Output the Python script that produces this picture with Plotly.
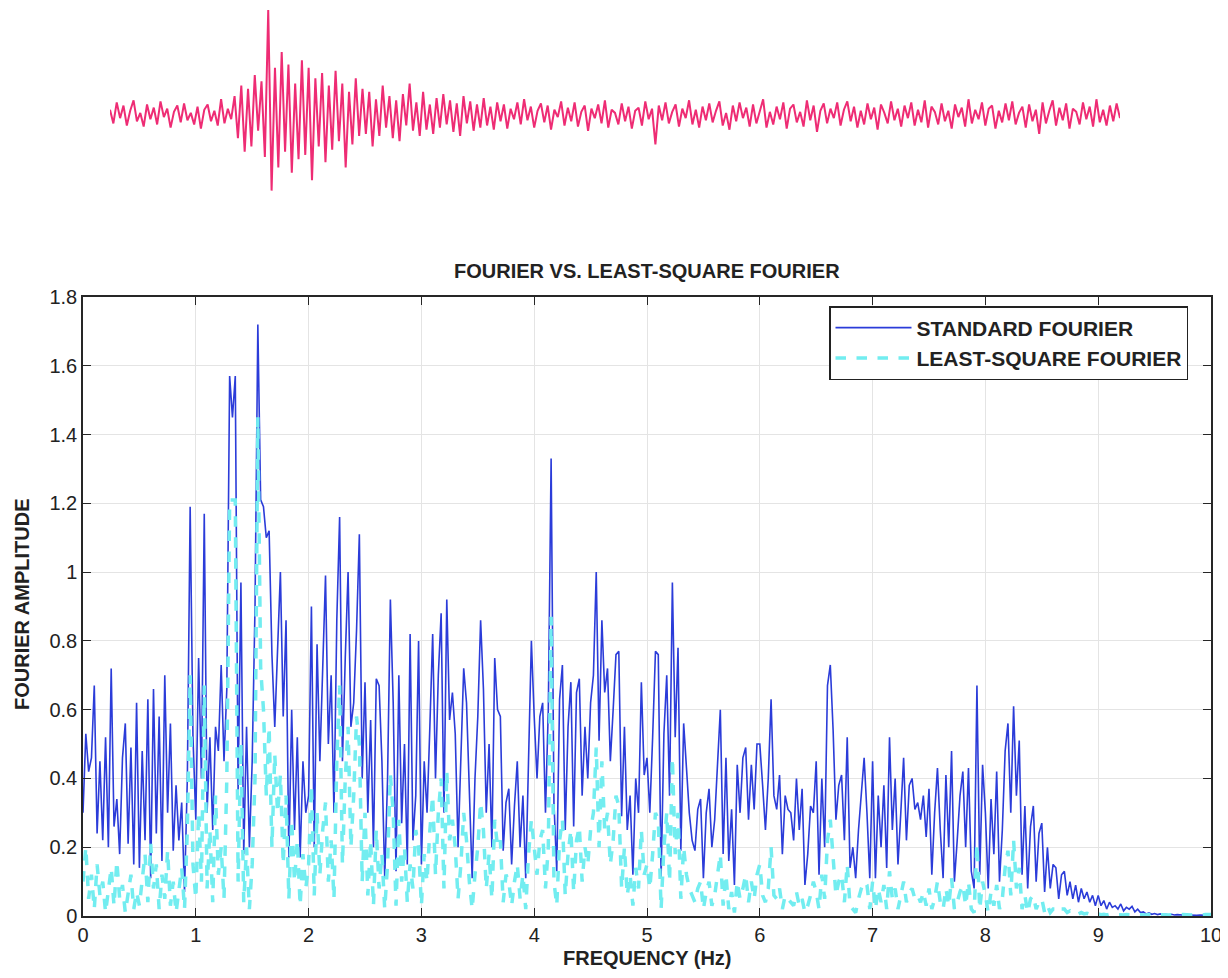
import numpy as np
import plotly.graph_objects as go

# ---------------- data ----------------
FREQ_STEP = 0.025  # Hz, spectral sampling

# STANDARD FOURIER amplitude, 0 ... 10 Hz
std_0 = [0.30,0.53,0.42,0.46,0.67,0.24,0.45,0.22,0.52,0.20, 0.72,0.26,0.34,0.18,0.46,0.56,0.21,0.49,0.15,0.62,
         0.14,0.48,0.22,0.63,0.11,0.66,0.24,0.58,0.16,0.70, 0.30,0.56,0.19,0.38,0.22,0.33,0.07,0.40,1.19,0.52]
std_1 = [0.28,0.75,0.40,1.17,0.30,0.52,0.25,0.55,0.48,0.73, 0.45,0.66,1.57,1.45,1.57,0.36,0.97,0.18,0.55,0.20,
         0.45,0.90,1.72,1.21,1.19,1.10,1.12,0.76,0.55,0.78, 1.00,0.58,0.86,0.17,0.60,0.25,0.52,0.17,0.45,0.30]
std_2 = [0.35,0.90,0.20,0.79,0.45,0.72,0.99,0.50,0.70,0.30, 0.86,1.16,0.45,0.75,1.00,0.55,0.62,0.83,1.11,0.40,
         0.68,0.30,0.57,0.20,0.69,0.67,0.45,0.11,0.40,0.92, 0.62,0.13,0.70,0.27,0.50,0.15,0.82,0.22,0.35,0.80]
std_3 = [0.15,0.45,0.30,0.55,0.82,0.40,0.70,0.88,0.30,0.92, 0.57,0.65,0.53,0.20,0.45,0.72,0.62,0.35,0.11,0.40,
         0.58,0.86,0.66,0.30,0.50,0.20,0.75,0.60,0.58,0.19, 0.33,0.37,0.15,0.32,0.45,0.20,0.35,0.11,0.45,0.80]
std_4 = [0.58,0.40,0.58,0.62,0.30,0.60,1.33,0.33,0.13,0.63, 0.73,0.25,0.55,0.68,0.26,0.65,0.69,0.35,0.55,0.40,
         0.62,0.70,1.00,0.51,0.86,0.65,0.72,0.45,0.60,0.76, 0.77,0.29,0.55,0.25,0.35,0.12,0.40,0.30,0.68,0.41]
std_5 = [0.46,0.30,0.52,0.77,0.76,0.11,0.53,0.70,0.35,0.97, 0.52,0.78,0.19,0.56,0.43,0.30,0.22,0.19,0.31,0.34,
         0.11,0.30,0.37,0.20,0.28,0.45,0.60,0.18,0.46,0.16, 0.31,0.09,0.44,0.30,0.46,0.49,0.28,0.44,0.31,0.50]
std_6 = [0.50,0.38,0.25,0.40,0.63,0.35,0.31,0.41,0.18,0.35, 0.31,0.30,0.22,0.40,0.25,0.37,0.09,0.18,0.32,0.30,
         0.45,0.12,0.40,0.20,0.67,0.73,0.54,0.28,0.38,0.41, 0.22,0.52,0.14,0.20,0.11,0.25,0.36,0.46,0.30,0.11]
std_7 = [0.45,0.11,0.35,0.20,0.38,0.14,0.52,0.25,0.40,0.15, 0.30,0.46,0.22,0.38,0.40,0.31,0.33,0.28,0.35,0.23,
         0.37,0.12,0.30,0.43,0.25,0.11,0.41,0.20,0.48,0.10, 0.22,0.35,0.42,0.20,0.43,0.13,0.08,0.67,0.12,0.44]
std_8 = [0.30,0.08,0.34,0.18,0.42,0.10,0.25,0.48,0.56,0.30, 0.61,0.35,0.51,0.12,0.32,0.08,0.26,0.32,0.10,0.24,
         0.27,0.07,0.20,0.08,0.15,0.14,0.05,0.12,0.13,0.06, 0.10,0.05,0.09,0.04,0.08,0.05,0.07,0.04,0.06,0.03]
std_9 = [0.06,0.03,0.045,0.02,0.04,0.025,0.03,0.02,0.035,0.015, 0.025,0.02,0.028,0.012,0.02,0.01,0.012,0.006,0.009,0.005,
         0.007,0.004,0.006,0.004,0.005,0.003,0.005,0.003,0.004,0.003, 0.004,0.002,0.003,0.002,0.003,0.002,0.003,0.002,0.002,0.002,
         0.002]

# LEAST-SQUARE FOURIER amplitude, 0 ... 10 Hz
lsq_0 = [0.10,0.20,0.05,0.12,0.02,0.15,0.06,0.10,0.01,0.08, 0.14,0.03,0.16,0.05,0.09,0.01,0.06,0.12,0.02,0.07,
         0.03,0.10,0.18,0.04,0.21,0.08,0.15,0.02,0.12,0.05, 0.19,0.03,0.10,0.01,0.07,0.14,0.02,0.25,0.70,0.15]
lsq_1 = [0.05,0.30,0.10,0.67,0.08,0.25,0.04,0.35,0.12,0.20, 0.05,0.40,1.21,1.21,1.21,0.10,0.50,0.04,0.20,0.02,
         0.15,0.40,1.45,0.72,0.60,0.35,0.55,0.20,0.47,0.30, 0.41,0.15,0.35,0.05,0.28,0.10,0.22,0.03,0.18,0.08]
lsq_2 = [0.15,0.38,0.06,0.30,0.12,0.25,0.33,0.10,0.22,0.05, 0.45,0.67,0.15,0.40,0.55,0.20,0.35,0.58,0.50,0.10,
         0.30,0.06,0.22,0.03,0.25,0.08,0.18,0.02,0.15,0.41, 0.30,0.03,0.28,0.10,0.20,0.04,0.15,0.08,0.25,0.20]
lsq_3 = [0.03,0.18,0.10,0.25,0.35,0.12,0.30,0.40,0.08,0.42, 0.22,0.28,0.20,0.05,0.15,0.30,0.22,0.10,0.02,0.12,
         0.20,0.33,0.25,0.08,0.18,0.05,0.28,0.20,0.22,0.04, 0.12,0.10,0.03,0.10,0.15,0.05,0.12,0.02,0.18,0.28]
lsq_4 = [0.20,0.12,0.22,0.25,0.08,0.20,0.87,0.10,0.03,0.22, 0.28,0.06,0.18,0.25,0.07,0.22,0.26,0.10,0.20,0.15,
         0.25,0.30,0.49,0.20,0.45,0.25,0.30,0.15,0.22,0.35, 0.32,0.08,0.20,0.06,0.12,0.03,0.14,0.08,0.25,0.12]
lsq_5 = [0.15,0.08,0.18,0.30,0.28,0.02,0.20,0.30,0.10,0.46, 0.18,0.30,0.05,0.20,0.12,0.08,0.06,0.04,0.08,0.10,
         0.02,0.07,0.10,0.03,0.06,0.12,0.18,0.03,0.12,0.02, 0.07,0.01,0.10,0.05,0.08,0.12,0.04,0.10,0.05,0.12]
lsq_6 = [0.15,0.06,0.04,0.08,0.20,0.06,0.05,0.08,0.02,0.06, 0.05,0.04,0.03,0.07,0.03,0.05,0.01,0.03,0.06,0.10,
         0.07,0.02,0.12,0.05,0.22,0.28,0.18,0.06,0.10,0.12, 0.04,0.15,0.03,0.02,0.01,0.05,0.08,0.10,0.09,0.02]
lsq_7 = [0.10,0.02,0.08,0.04,0.09,0.02,0.13,0.05,0.08,0.02, 0.06,0.10,0.04,0.07,0.08,0.05,0.06,0.04,0.07,0.03,
         0.08,0.02,0.05,0.10,0.04,0.02,0.08,0.03,0.11,0.02, 0.04,0.07,0.09,0.03,0.10,0.02,0.01,0.21,0.02,0.10]
lsq_8 = [0.06,0.01,0.07,0.03,0.09,0.02,0.05,0.14,0.19,0.06, 0.22,0.08,0.14,0.02,0.06,0.01,0.05,0.06,0.02,0.04,
         0.05,0.01,0.03,0.01,0.02,0.02,0.01,0.02,0.02,0.01, 0.015,0.008,0.012,0.006,0.01,0.006,0.008,0.005,0.007,0.004]
lsq_9 = [0.006,0.004,0.005,0.003,0.005,0.003,0.004,0.003,0.004,0.003, 0.004,0.003,0.004,0.003,0.004,0.003,0.004,0.003,0.004,0.003,
         0.004,0.003,0.004,0.003,0.004,0.003,0.004,0.003,0.004,0.003, 0.004,0.003,0.004,0.003,0.004,0.003,0.004,0.003,0.004,0.003,
         0.004]

# Seismogram (record on top), relative amplitude, sampled every SEIS_DT seconds
SEIS_DT = 0.2
seis_pre = [0.05,-0.08,0.12,-0.03,0.09,-0.10,0.04,0.14,-0.06,0.02, -0.11,0.10,-0.04,0.07,-0.09,0.13,-0.02,0.06,-0.12,0.03,
            0.09,-0.07,0.11,-0.05,0.02,-0.09,0.08,-0.13,0.05,0.10, -0.06,0.04,-0.10,0.15,-0.08,0.06,-0.04]
seis_onset = [0.18,-0.22,0.28,-0.35,0.25,-0.30,0.38,-0.15,0.32,-0.40]
seis_peak = [1.00,-0.72]
seis_strong = [0.45,-0.50,0.60,-0.35,0.48,-0.55,0.30,-0.42,0.52,-0.38,0.45,-0.62,0.35,-0.30,0.40,-0.45,0.28,-0.33,0.42,-0.25,
               0.30,-0.50,0.22,-0.28,0.35,-0.20]
seis_coda = [0.25,-0.18,0.22,-0.30,0.15,-0.20,0.28,-0.12,0.18,-0.22, 0.14,-0.25,0.20,-0.10,0.30,-0.15,0.12,-0.20,0.22,-0.14,
             0.10,-0.18,0.16,-0.12,0.20,-0.09,0.14,-0.16,0.11,-0.20, 0.18,-0.08,0.13,-0.15,0.10,-0.12,0.16,-0.10,0.08,-0.14,
             0.12,-0.06]
seis_tail = [0.10,-0.13,0.06,-0.04,0.12,-0.09,0.15,-0.05,0.08,-0.12,0.04,0.11,-0.07,0.09,-0.14,0.05,-0.02,0.13,-0.10,0.07,
             -0.06,0.12,-0.11,0.03,0.09,-0.15,0.06,-0.03,0.10,-0.08,0.14,-0.12,0.05,0.02,-0.09,0.11,-0.06,0.08,-0.13,0.04,
             0.07,-0.10,0.13,-0.04,0.06,-0.28,0.09,-0.05,0.12,-0.08,0.03,0.10,-0.11,0.06,-0.03,0.14,-0.09,0.05,-0.12,0.08,
             -0.05,0.11,-0.07,0.04,0.13,-0.10,0.02,-0.14,0.09,-0.06,0.12,-0.03,0.07,-0.11,0.10,-0.08,0.05,0.15,-0.12,0.03,
             -0.09,0.08,-0.04,0.12,-0.13,0.06,0.10,-0.07,0.03,-0.11,0.14,-0.05,0.09,-0.16,0.04,0.11,-0.08,0.06,-0.03,0.12,
             -0.10,0.05,0.13,-0.06,0.08,-0.12,0.04,-0.09,0.11,-0.04,0.07,-0.14,0.10,0.02,-0.08,0.13,-0.05,0.06,-0.11,0.09,
             -0.03,0.12,-0.10,0.05,-0.07,0.14,-0.12,0.08,0.03,-0.09,0.11,-0.06,0.04,-0.13,0.10,-0.02,0.07,-0.11,0.15,-0.08,
             0.05,-0.04,0.12,-0.10,0.06,0.09,-0.13,0.04,-0.07,0.11,-0.05,0.13,-0.09,0.02,0.08,-0.12,0.10,-0.06,0.05,-0.18,
             0.12,-0.08,0.04,0.14,-0.10,0.07,-0.05,0.11,-0.13,0.06,0.03,-0.09,0.12,-0.04,0.08,-0.11,0.15,-0.07,0.05,-0.10,
             0.09,-0.06,0.11,-0.03]

x_ticks = [0, 1, 2, 3, 4, 5, 6, 7, 8, 9, 10]
y_ticks = [0, 0.2, 0.4, 0.6, 0.8, 1.0, 1.2, 1.4, 1.6, 1.8]
y_tick_labels = ["0", "0.2", "0.4", "0.6", "0.8", "1", "1.2", "1.4", "1.6", "1.8"]

# ---------------- assemble ----------------
std_amp = std_0 + std_1 + std_2 + std_3 + std_4 + std_5 + std_6 + std_7 + std_8 + std_9
lsq_amp = lsq_0 + lsq_1 + lsq_2 + lsq_3 + lsq_4 + lsq_5 + lsq_6 + lsq_7 + lsq_8 + lsq_9
freq = np.arange(len(std_amp)) * FREQ_STEP
seis = seis_pre + seis_onset + seis_peak + seis_strong + seis_coda + seis_tail
t = np.arange(len(seis)) * SEIS_DT

# the page body has an 8px margin, so the figure sits at (8, 8) in the window
OFF = 8
W, H = 1228 - OFF, 978 - OFF
def px(x):
    return (x - OFF) / W
def py(y):
    return 1 - (y - OFF) / H

FONT = "Liberation Sans, Arial, Helvetica, sans-serif"

fig = go.Figure()
fig.add_trace(go.Scatter(x=t, y=seis, xaxis="x2", yaxis="y2", mode="lines",
                         line=dict(color="#EE2C74", width=2.0), showlegend=False, hoverinfo="skip"))
fig.add_trace(go.Scatter(x=freq, y=std_amp, mode="lines", name="STANDARD FOURIER",
                         line=dict(color="#2B3CD9", width=1.6)))
fig.add_trace(go.Scatter(x=freq, y=lsq_amp, mode="lines", name="LEAST-SQUARE FOURIER",
                         line=dict(color="#72EDF0", width=3.5, dash="dash")))

axis_common = dict(showline=True, linecolor="#262626", linewidth=1.5, mirror="allticks",
                   ticks="inside", ticklen=8, tickwidth=1.2, tickcolor="#262626",
                   showgrid=True, gridcolor="#E4E4E4", gridwidth=1, zeroline=False,
                   tickfont=dict(family=FONT, size=20, color="#222222"), automargin=False)

fig.update_layout(
    width=W, height=H,
    margin=dict(l=0, r=0, t=0, b=0),
    paper_bgcolor="white", plot_bgcolor="white",
    xaxis=dict(domain=[px(83), px(1211)], range=[0, 10], tickvals=x_ticks,
               anchor="y", **axis_common),
    yaxis=dict(domain=[py(916), py(297)], range=[0, 1.8], tickvals=y_ticks,
               ticktext=y_tick_labels, anchor="x", **axis_common),
    xaxis2=dict(domain=[px(110), px(1120)], range=[t[0], t[-1]], visible=False, anchor="y2"),
    yaxis2=dict(domain=[py(220), py(10)], range=[-1, 1], visible=False, anchor="x2"),
    legend=dict(x=px(1188), xanchor="right", y=py(306), yanchor="top",
                bgcolor="white", bordercolor="#222222", borderwidth=1.5,
                font=dict(family=FONT, size=21, color="#222222", weight="bold"),
                itemwidth=76, tracegroupgap=0),
    showlegend=True,
    hovermode=False,
    annotations=[
        dict(text="<b>FOURIER VS. LEAST-SQUARE FOURIER</b>", x=px(647), y=py(271),
             xref="paper", yref="paper", showarrow=False, xanchor="center", yanchor="middle",
             font=dict(family=FONT, size=20, color="#222222")),
        dict(text="<b>FREQUENCY (Hz)</b>", x=px(647), y=py(958),
             xref="paper", yref="paper", showarrow=False, xanchor="center", yanchor="middle",
             font=dict(family=FONT, size=20, color="#222222")),
        dict(text="<b>FOURIER AMPLITUDE</b>", x=px(22), y=py(605), textangle=-90,
             xref="paper", yref="paper", showarrow=False, xanchor="center", yanchor="middle",
             font=dict(family=FONT, size=20, color="#222222")),
    ],
)

fig.write_html("out.html")
